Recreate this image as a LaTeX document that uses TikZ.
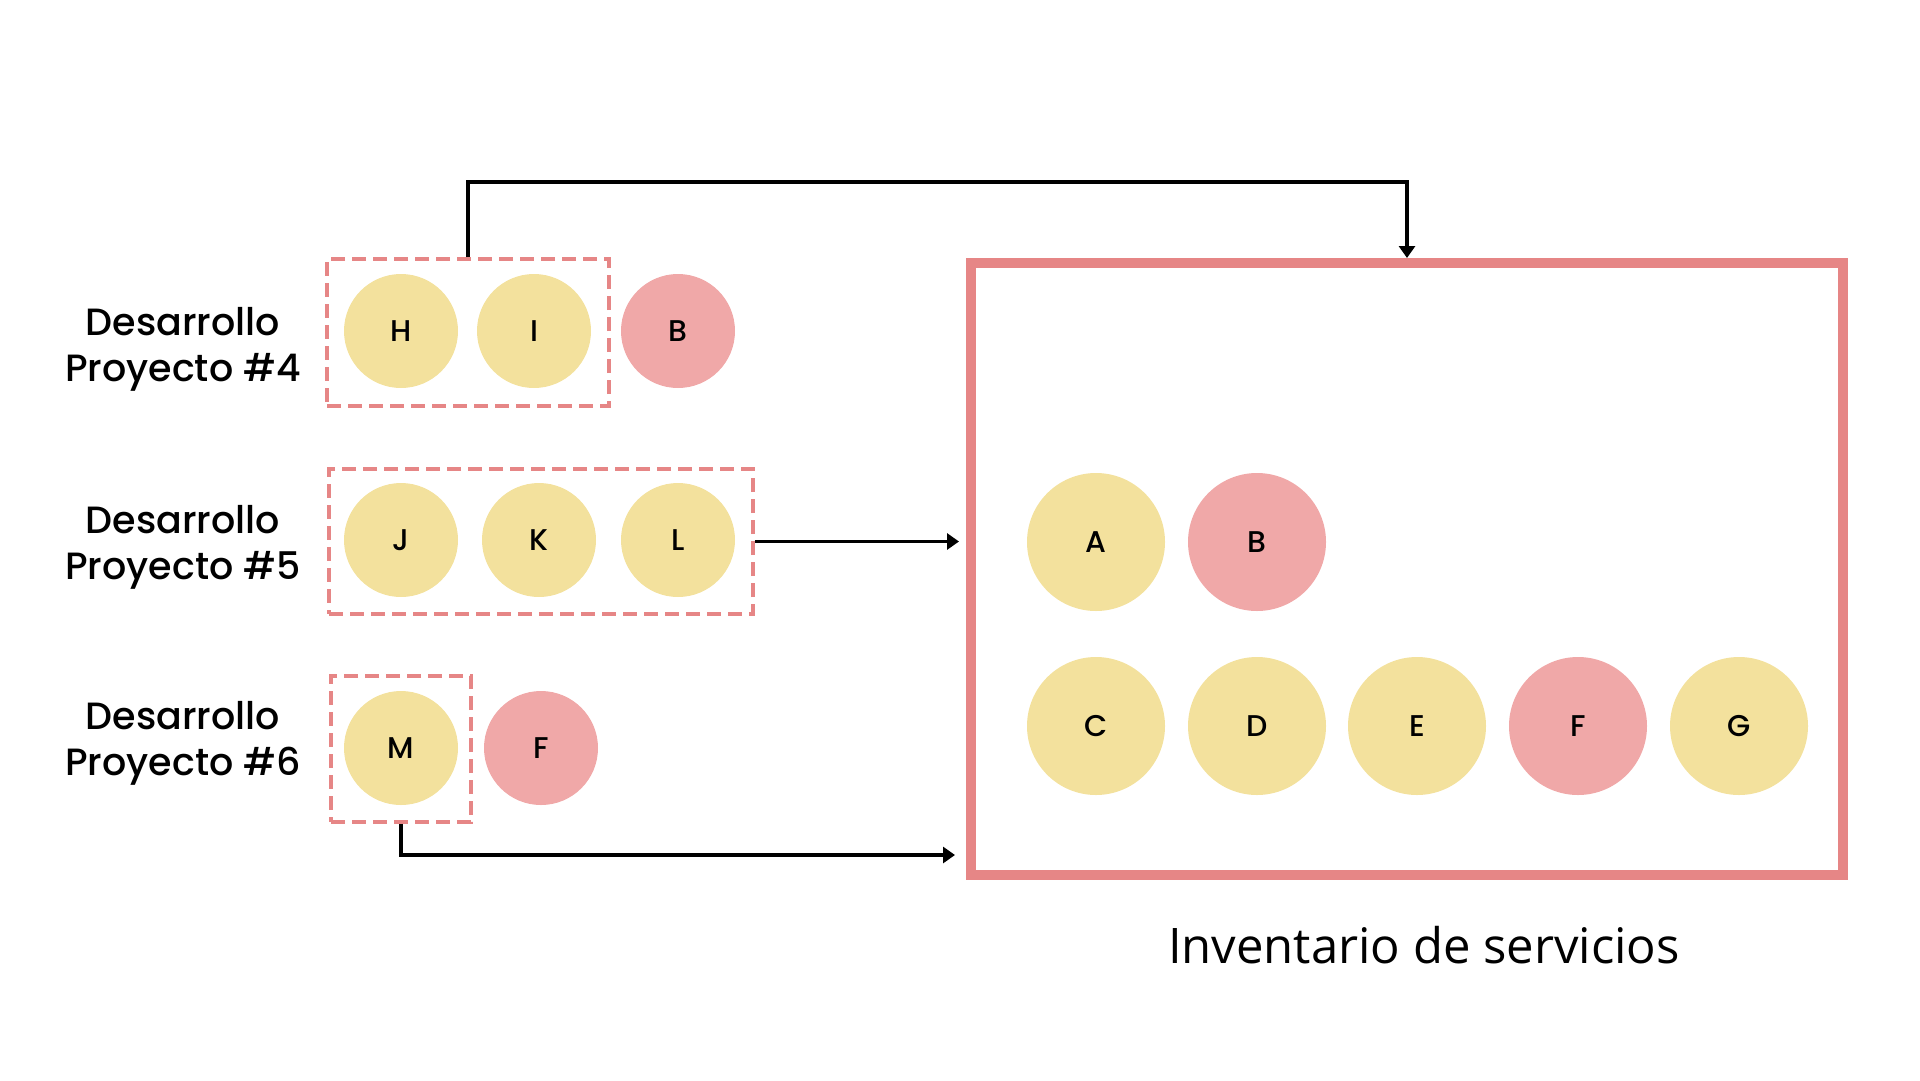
\documentclass[tikz,border=0pt]{standalone}
\usepackage{fontspec}
\setmainfont{Poppins}[UprightFont=* Medium]
\newfontfamily\invfont{Open Sans}
\usetikzlibrary{arrows.meta,positioning}
\definecolor{cyel}{RGB}{243,225,157}
\definecolor{cpink}{RGB}{240,168,168}
\definecolor{cframe}{RGB}{230,134,134}
\begin{document}
\begin{tikzpicture}[x=1pt,y=-1pt,
  svc/.style={circle,minimum size=114pt,inner sep=0pt,font=\fontsize{30}{30}\selectfont},
  big/.style={svc,minimum size=138pt},
  yel/.style={fill=cyel},
  pnk/.style={fill=cpink},
  grp/.style={draw=cframe,line width=3.5pt,dash pattern=on 14pt off 7pt,inner sep=0pt},
  conn/.style={line width=3.5pt,-{Triangle[length=12pt,width=16pt]}},
  lbl/.style={align=center,font=\fontsize{38}{46}\selectfont}]
\useasboundingbox (0,0) rectangle (1920,1080);
% project 4
\node[grp,minimum width=282pt,minimum height=147pt] (g4) at (468,332.5) {};
\node[svc,yel] (h) at (401,331) {H};
\node[svc,yel] (i) at (534,331) {I};
\node[svc,pnk] (b4) at (678,331) {B};
\node[lbl] (l4) at (183,349) {Desarrollo\\Proyecto \#4};
% project 5
\node[grp,minimum width=424pt,minimum height=145pt] (g5) at (541,541.5) {};
\node[svc,yel] (j) at (401,540) {J};
\node[svc,yel] (k) at (539,540) {K};
\node[svc,yel] (l) at (678,540) {L};
\node[lbl] (l5) at (183,547) {Desarrollo\\Proyecto \#5};
% project 6
\node[grp,minimum width=140pt,minimum height=146pt] (g6) at (401,749) {};
\node[svc,yel] (m) at (401,748) {M};
\node[svc,pnk] (f6) at (541,748) {F};
\node[lbl] (l6) at (183,743) {Desarrollo\\Proyecto \#6};
% inventory
\node[draw=cframe,line width=10pt,minimum width=872pt,minimum height=612pt,inner sep=0pt] (inv) at (1407,569) {};
\node[big,yel] (a) at (1096,542) {A};
\node[big,pnk] (bb) at (1257,542) {B};
\node[big,yel] (c) at (1096,726) {C};
\node[big,yel] (d) at (1257,726) {D};
\node[big,yel] (e) at (1417,726) {E};
\node[big,pnk] (ff) at (1578,726) {F};
\node[big,yel] (g) at (1739,726) {G};
\node[font=\invfont\fontsize{49}{49}\selectfont] (title) at (1424,945) {Inventario de servicios};
% connectors
\coordinate (top) at (1407,182);
\draw[conn] (g4.north) |- (top) -- (inv.north);
\draw[conn,shorten >=7pt] (g5.east) -- (g5.east -| inv.west);
\coordinate (low) at (401,855);
\draw[conn,shorten >=11pt] (g6.south) |- (low -| inv.west);
\end{tikzpicture}
\end{document}
